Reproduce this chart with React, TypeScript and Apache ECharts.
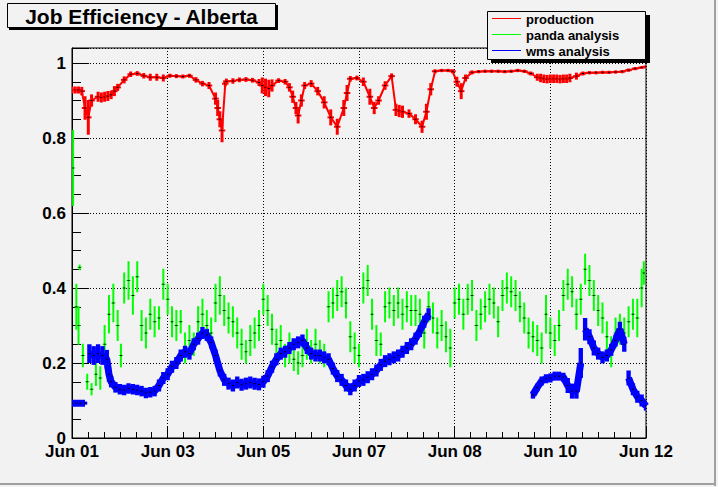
import React, { useEffect, useRef } from "react";
import * as echarts from "echarts";

const chartTitle = "Job Efficiency - Alberta";
const seriesNames = ["production", "panda analysis", "wms analysis"];
const seriesColors = ["#ff0000", "#00ff00", "#0000ff"];
const xTickLabels = ["Jun 01", "Jun 03", "Jun 05", "Jun 07", "Jun 08", "Jun 10", "Jun 12"];
// time in hours since start of the axis
const prodTime = [0, 1.5, 3, 4.5, 6, 7.5, 9, 12, 13.5, 15, 16.5, 18, 19.5, 21, 24, 27, 30, 33, 36, 39, 42, 45, 48, 51, 54, 57, 60, 63, 66, 67, 68, 69, 70.5, 71, 74, 77, 80, 83, 86, 87.5, 89, 90.5, 92, 95, 98, 100, 101.5, 103, 104, 105.5, 107, 110, 113, 116, 119, 122, 125, 126.5, 128, 131, 134, 137, 139, 141, 144, 147, 149, 150.5, 152, 155, 158, 161, 163, 165, 167, 170, 173, 175, 177, 179, 181, 184, 187, 190, 193, 196, 199, 202, 205, 208, 211, 214, 215.5, 217, 218.5, 220, 221.5, 223, 224.5, 226, 227.5, 229, 232, 235, 238, 241, 244, 247, 250, 253, 256, 259, 262, 264];
const prodValue = [0.928, 0.928, 0.928, 0.925, 0.88, 0.855, 0.9, 0.91, 0.908, 0.91, 0.912, 0.915, 0.925, 0.935, 0.955, 0.97, 0.972, 0.966, 0.962, 0.962, 0.96, 0.966, 0.965, 0.964, 0.966, 0.955, 0.945, 0.94, 0.905, 0.88, 0.85, 0.82, 0.945, 0.951, 0.952, 0.955, 0.956, 0.954, 0.948, 0.94, 0.935, 0.932, 0.94, 0.953, 0.95, 0.935, 0.91, 0.88, 0.86, 0.9, 0.94, 0.945, 0.925, 0.895, 0.855, 0.83, 0.88, 0.92, 0.958, 0.96, 0.95, 0.91, 0.88, 0.9, 0.94, 0.965, 0.875, 0.872, 0.87, 0.865, 0.85, 0.83, 0.87, 0.93, 0.978, 0.98, 0.98, 0.978, 0.95, 0.925, 0.96, 0.975, 0.977, 0.978, 0.978, 0.978, 0.977, 0.978, 0.98, 0.978, 0.972, 0.962, 0.96, 0.958, 0.957, 0.958, 0.958, 0.958, 0.957, 0.958, 0.958, 0.96, 0.965, 0.972, 0.974, 0.974, 0.975, 0.975, 0.976, 0.977, 0.981, 0.985, 0.988, 0.99];
const prodError = [0.008, 0.008, 0.008, 0.01, 0.03, 0.045, 0.015, 0.012, 0.012, 0.012, 0.012, 0.01, 0.012, 0.008, 0.008, 0.006, 0.005, 0.006, 0.008, 0.008, 0.008, 0.004, 0.004, 0.004, 0.004, 0.006, 0.006, 0.008, 0.015, 0.02, 0.02, 0.03, 0.006, 0.006, 0.006, 0.005, 0.005, 0.005, 0.008, 0.02, 0.022, 0.022, 0.015, 0.005, 0.006, 0.01, 0.015, 0.015, 0.02, 0.015, 0.008, 0.008, 0.01, 0.015, 0.02, 0.02, 0.02, 0.02, 0.006, 0.005, 0.01, 0.02, 0.015, 0.01, 0.01, 0.006, 0.015, 0.015, 0.015, 0.01, 0.012, 0.015, 0.02, 0.015, 0.004, 0.003, 0.003, 0.004, 0.012, 0.02, 0.008, 0.004, 0.003, 0.003, 0.003, 0.003, 0.003, 0.003, 0.003, 0.003, 0.004, 0.008, 0.01, 0.01, 0.01, 0.01, 0.01, 0.01, 0.01, 0.01, 0.01, 0.01, 0.008, 0.004, 0.003, 0.003, 0.003, 0.003, 0.003, 0.003, 0.003, 0.003, 0.002, 0.002];

const pandaTime = [0.5, 2, 3, 3.5, 5, 7, 9, 11, 13, 15, 17, 19, 21, 22.5, 24, 26, 28, 30, 32, 34, 36, 38, 40, 42, 44, 46, 48, 50, 52, 54, 56, 58, 60, 62, 64, 66, 68, 70, 72, 74, 76, 78, 80, 82, 84, 86, 88, 90, 92, 94, 96, 98, 100, 102, 104, 106, 108, 110, 112, 114, 116, 118, 120, 122, 124, 126, 128, 130, 132, 134, 136, 138, 140, 142, 144, 146, 148, 150, 152, 154, 156, 158, 160, 162, 164, 166, 168, 170, 172, 174, 176, 178, 180, 182, 184, 186, 188, 190, 192, 194, 196, 198, 200, 202, 204, 206, 208, 210, 212, 214, 216, 218, 220, 222, 224, 226, 228, 230, 232, 234, 236, 238, 240, 242, 244, 246, 248, 250, 252, 254, 256, 258, 260, 262, 263];
const pandaValue = [0.72, 0.35, 0.3, 0.455, 0.22, 0.15, 0.13, 0.17, 0.16, 0.25, 0.33, 0.36, 0.3, 0.22, 0.4, 0.42, 0.38, 0.43, 0.3, 0.28, 0.33, 0.31, 0.32, 0.41, 0.37, 0.31, 0.3, 0.31, 0.24, 0.26, 0.25, 0.31, 0.33, 0.3, 0.28, 0.36, 0.38, 0.34, 0.32, 0.31, 0.28, 0.25, 0.23, 0.26, 0.28, 0.3, 0.37, 0.34, 0.29, 0.25, 0.26, 0.22, 0.24, 0.21, 0.2, 0.22, 0.25, 0.23, 0.25, 0.23, 0.22, 0.35, 0.36, 0.38, 0.39, 0.36, 0.27, 0.24, 0.22, 0.4, 0.42, 0.33, 0.26, 0.25, 0.35, 0.36, 0.34, 0.36, 0.33, 0.35, 0.34, 0.34, 0.33, 0.28, 0.35, 0.32, 0.28, 0.3, 0.27, 0.24, 0.36, 0.37, 0.33, 0.37, 0.38, 0.3, 0.33, 0.35, 0.37, 0.36, 0.31, 0.38, 0.4, 0.39, 0.38, 0.35, 0.32, 0.28, 0.27, 0.26, 0.24, 0.33, 0.28, 0.26, 0.3, 0.38, 0.41, 0.39, 0.33, 0.37, 0.45, 0.42, 0.38, 0.34, 0.32, 0.27, 0.23, 0.28, 0.29, 0.28, 0.31, 0.33, 0.32, 0.4, 0.44];
const pandaError = [0.1, 0.06, 0.05, 0.006, 0.03, 0.02, 0.015, 0.03, 0.03, 0.05, 0.05, 0.05, 0.04, 0.03, 0.04, 0.05, 0.05, 0.04, 0.04, 0.04, 0.04, 0.04, 0.03, 0.04, 0.04, 0.04, 0.04, 0.03, 0.04, 0.04, 0.03, 0.04, 0.04, 0.04, 0.04, 0.05, 0.05, 0.04, 0.04, 0.04, 0.04, 0.04, 0.03, 0.04, 0.04, 0.04, 0.04, 0.04, 0.04, 0.04, 0.04, 0.03, 0.04, 0.03, 0.03, 0.03, 0.04, 0.03, 0.04, 0.03, 0.03, 0.04, 0.04, 0.04, 0.04, 0.04, 0.04, 0.04, 0.03, 0.04, 0.04, 0.04, 0.04, 0.03, 0.04, 0.04, 0.04, 0.04, 0.04, 0.04, 0.04, 0.04, 0.04, 0.04, 0.04, 0.04, 0.04, 0.04, 0.04, 0.05, 0.04, 0.04, 0.04, 0.04, 0.04, 0.04, 0.04, 0.04, 0.04, 0.04, 0.04, 0.04, 0.04, 0.04, 0.04, 0.04, 0.04, 0.04, 0.04, 0.04, 0.04, 0.05, 0.04, 0.04, 0.04, 0.04, 0.04, 0.04, 0.04, 0.04, 0.04, 0.04, 0.04, 0.04, 0.04, 0.04, 0.04, 0.04, 0.04, 0.04, 0.04, 0.04, 0.05, 0.05, 0.03];

const wmsTime = [0, 2, 4, 6, 8, 10, 12, 14, 16, 17, 18, 20, 22, 24, 26, 28, 30, 32, 34, 36, 38, 40, 42, 44, 46, 48, 50, 52, 54, 56, 58, 60, 62, 64, 66, 68, 70, 72, 74, 76, 78, 80, 82, 84, 86, 88, 90, 92, 94, 96, 98, 100, 102, 104, 106, 108, 110, 112, 114, 116, 118, 120, 122, 124, 126, 128, 130, 132, 134, 136, 138, 140, 142, 144, 146, 148, 150, 152, 154, 156, 158, 160, 162, 164, 212, 214, 216, 218, 220, 222, 224, 226, 228, 230, 232, 234, 236, 238, 240, 242, 244, 246, 248, 250, 252, 254, 256, 258, 260, 262, 264];
const wmsValue = [0.093, 0.093, 0.093, 0.093, 0.225, 0.22, 0.225, 0.22, 0.21, 0.17, 0.15, 0.135, 0.13, 0.128, 0.132, 0.13, 0.128, 0.125, 0.12, 0.122, 0.125, 0.14, 0.16, 0.17, 0.19, 0.2, 0.22, 0.23, 0.225, 0.25, 0.265, 0.28, 0.275, 0.255, 0.22, 0.18, 0.155, 0.145, 0.14, 0.148, 0.142, 0.145, 0.148, 0.145, 0.143, 0.15, 0.165, 0.19, 0.21, 0.225, 0.23, 0.24, 0.25, 0.255, 0.26, 0.24, 0.225, 0.22, 0.22, 0.215, 0.21, 0.185, 0.165, 0.155, 0.14, 0.13, 0.14, 0.152, 0.155, 0.162, 0.17, 0.18, 0.195, 0.205, 0.21, 0.215, 0.22, 0.23, 0.24, 0.25, 0.265, 0.285, 0.31, 0.33, 0.115, 0.135, 0.152, 0.158, 0.16, 0.165, 0.165, 0.162, 0.14, 0.125, 0.125, 0.2, 0.29, 0.27, 0.24, 0.225, 0.215, 0.22, 0.235, 0.26, 0.29, 0.25, 0.16, 0.13, 0.11, 0.1, 0.085];
const wmsError = [0.003, 0.003, 0.003, 0.003, 0.025, 0.025, 0.025, 0.025, 0.025, 0.02, 0.015, 0.014, 0.014, 0.014, 0.014, 0.014, 0.014, 0.014, 0.014, 0.014, 0.014, 0.016, 0.016, 0.016, 0.016, 0.016, 0.016, 0.016, 0.016, 0.016, 0.016, 0.016, 0.016, 0.016, 0.016, 0.016, 0.016, 0.016, 0.016, 0.016, 0.016, 0.016, 0.016, 0.016, 0.016, 0.016, 0.016, 0.016, 0.016, 0.016, 0.016, 0.016, 0.016, 0.016, 0.016, 0.016, 0.016, 0.016, 0.016, 0.016, 0.016, 0.016, 0.016, 0.016, 0.016, 0.016, 0.016, 0.016, 0.016, 0.016, 0.016, 0.016, 0.016, 0.016, 0.016, 0.016, 0.016, 0.016, 0.016, 0.016, 0.016, 0.016, 0.016, 0.016, 0.01, 0.01, 0.012, 0.012, 0.012, 0.012, 0.012, 0.012, 0.02, 0.02, 0.02, 0.04, 0.03, 0.02, 0.02, 0.016, 0.016, 0.016, 0.016, 0.016, 0.02, 0.02, 0.02, 0.016, 0.016, 0.016, 0.012];

const FONT = "'Liberation Sans', Arial, Helvetica, sans-serif";
const BG = "#f2f2f2";

// mode: "trace" (thick horizontal segment + vertical error), "box" (filled error box), "bar" (thin horizontal + vertical error)
function makeSeries(name: string, color: string, t: number[], v: number[], e: number[], halfStep: number, mode: string, z: number) {
  const data = t.map((x, i) => [x, v[i], e[i]]);
  return {
    type: "custom",
    name,
    z,
    clip: true,
    data,
    encode: { x: 0, y: 1 },
    renderItem: (params: any, api: any) => {
      const x = api.value(0);
      const y = api.value(1);
      const err = api.value(2);
      const c = api.coord([x, y]);
      const top = api.coord([x, y + err]);
      const bot = api.coord([x, y - err]);
      const hw = api.size([halfStep, 0])[0];
      const children: any[] = [];
      if (mode === "box") {
        const h = Math.max(bot[1] - top[1], 3);
        children.push({ type: "rect", shape: { x: c[0] - hw, y: c[1] - h / 2, width: hw * 2, height: h }, style: { fill: color } });
      } else if (mode === "trace") {
        children.push({ type: "line", shape: { x1: c[0] - hw, y1: c[1], x2: c[0] + hw, y2: c[1] }, style: { stroke: color, lineWidth: 2 } });
        children.push({ type: "line", shape: { x1: c[0], y1: top[1] - 0.5, x2: c[0], y2: bot[1] + 0.5 }, style: { stroke: color, lineWidth: 3 } });
      } else {
        children.push({ type: "line", shape: { x1: c[0], y1: top[1] - 0.5, x2: c[0], y2: bot[1] + 0.5 }, style: { stroke: color, lineWidth: 2 } });
        children.push({ type: "line", shape: { x1: c[0] - hw, y1: c[1], x2: c[0] + hw, y2: c[1] }, style: { stroke: color, lineWidth: 1 } });
      }
      children.push({ type: "rect", shape: { x: c[0] - 1, y: c[1] - 0.5, width: 2, height: 1 }, style: { fill: "#000" } });
      return { type: "group", children };
    },
  };
}

// connecting trace through the measured points (broken where the record has a gap or a jump)
function makeTrace(name: string, color: string, t: number[], v: number[], width: number, maxGap: number, maxJump: number, z: number) {
  const data: any[] = [];
  t.forEach((x, i) => {
    if (i > 0 && (x - t[i - 1] > maxGap || Math.abs(v[i] - v[i - 1]) > maxJump)) data.push([(x + t[i - 1]) / 2, null]);
    data.push([x, v[i]]);
  });
  return {
    type: "line",
    name,
    z,
    data,
    showSymbol: false,
    symbol: "none",
    connectNulls: false,
    clip: true,
    silent: true,
    lineStyle: { color, width },
  };
}

export default function App() {
  const ref = useRef<HTMLDivElement>(null);
  useEffect(() => {
    if (!ref.current) return;
    const chart = echarts.init(ref.current, undefined, { renderer: "svg" });
    const legendY = [18, 34, 50];
    const option: any = {
      animation: false,
      backgroundColor: BG,
      textStyle: { fontFamily: FONT },
      grid: { left: 72, top: 48, right: 72, bottom: 49, show: true, backgroundColor: BG, borderColor: "#000", borderWidth: 1 },
      xAxis: {
        type: "value",
        min: 0,
        max: 264,
        interval: 44,
        axisLine: { show: true, onZero: false, lineStyle: { color: "#000", width: 1 } },
        axisTick: { show: true, inside: true, length: 12, lineStyle: { color: "#000" } },
        minorTick: { show: true, splitNumber: 6, length: 6, lineStyle: { color: "#000" } },
        splitLine: { show: true, lineStyle: { color: "#000", type: [1, 2], width: 1 } },
        axisLabel: {
          show: true,
          margin: 5,
          color: "#000",
          fontFamily: FONT,
          fontWeight: "bold",
          fontSize: 17,
          showMinLabel: true,
          showMaxLabel: true,
          formatter: (val: number) => xTickLabels[Math.round(val / 44)] ?? "",
        },
      },
      yAxis: {
        type: "value",
        min: 0,
        max: 1.04,
        interval: 0.2,
        axisLine: { show: true, onZero: false, lineStyle: { color: "#000", width: 1 } },
        axisTick: { show: true, inside: true, length: 17, lineStyle: { color: "#000" } },
        minorTick: { show: true, splitNumber: 4, length: 9, lineStyle: { color: "#000" } },
        splitLine: { show: true, lineStyle: { color: "#000", type: [1, 2], width: 1 } },
        axisLabel: {
          show: true,
          margin: 6,
          color: "#000",
          fontFamily: FONT,
          fontWeight: "bold",
          fontSize: 17,
          formatter: (val: number) => {
            const r = Math.round(val * 10) / 10;
            if (Math.abs(val - r) > 1e-6 || Math.round(r * 10) % 2 !== 0) return "";
            return r === 0 ? "0" : r === 1 ? "1" : r.toFixed(1);
          },
        },
      },
      series: [
        makeTrace(seriesNames[0], seriesColors[0], prodTime, prodValue, 2, 4, 1, 1),
        makeSeries(seriesNames[0], seriesColors[0], prodTime, prodValue, prodError, 1.5, "trace", 2),
        makeSeries(seriesNames[1], seriesColors[1], pandaTime, pandaValue, pandaError, 1, "bar", 3),
        makeTrace(seriesNames[2], seriesColors[2], wmsTime, wmsValue, 7, 4, 0.08, 4),
        makeSeries(seriesNames[2], seriesColors[2], wmsTime, wmsValue, wmsError, 1, "box", 5),
      ],
      graphic: [
        { type: "rect", z: 100, shape: { x: 714, y: 0, width: 2, height: 486 }, style: { fill: "#a0a0a0" } },
        { type: "rect", z: 100, shape: { x: 0, y: 483, width: 716, height: 2 }, style: { fill: "#a0a0a0" } },
        { type: "rect", z: 100, shape: { x: 9, y: 5, width: 269, height: 25 }, style: { fill: "#000" } },
        { type: "rect", z: 101, shape: { x: 7.5, y: 3.5, width: 268, height: 24 }, style: { fill: BG, stroke: "#000", lineWidth: 1 } },
        {
          type: "text", z: 102, x: 141.5, y: 16,
          style: { text: chartTitle, fill: "#000", font: `bold 21px ${FONT}`, align: "center", verticalAlign: "middle" },
        },
        { type: "rect", z: 100, shape: { x: 491, y: 15, width: 159, height: 48 }, style: { fill: "#000" } },
        { type: "rect", z: 101, shape: { x: 487.5, y: 11.5, width: 158, height: 48 }, style: { fill: BG, stroke: "#000", lineWidth: 1 } },
        ...seriesNames.flatMap((n, i) => [
          { type: "line", z: 102, shape: { x1: 492, y1: legendY[i] + 0.5, x2: 521, y2: legendY[i] + 0.5 }, style: { stroke: seriesColors[i], lineWidth: 1 } },
          {
            type: "text", z: 102, x: 526, y: legendY[i] + 1,
            style: { text: n, fill: "#000", font: `bold 13px ${FONT}`, align: "left", verticalAlign: "middle" },
          },
        ]),
      ],
    };
    chart.setOption(option);
    return () => chart.dispose();
  }, []);
  return <div ref={ref} style={{ position: "absolute", left: 0, top: 0, width: 718, height: 487 }} />;
}
